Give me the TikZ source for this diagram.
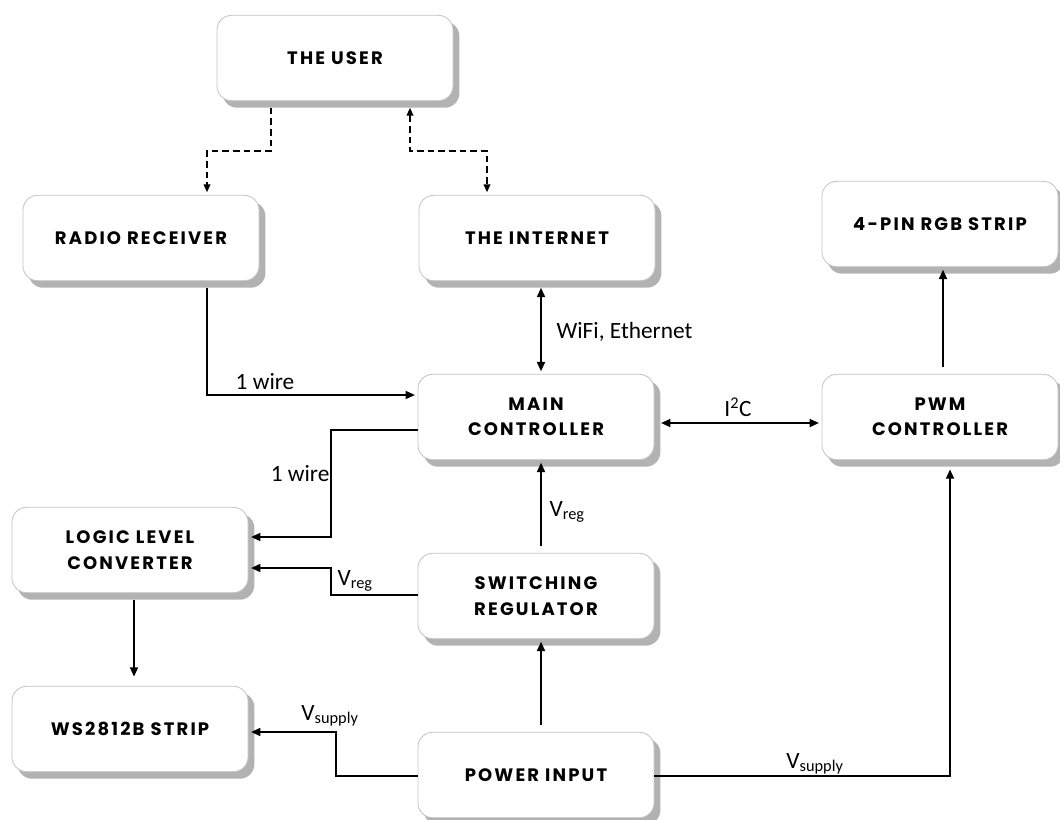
\documentclass[tikz,border=0pt]{standalone}
\usepackage{fontspec}
\newfontfamily\boxfont[LetterSpace=12]{Poppins}
\newfontfamily\lblfont{Carlito}
\usetikzlibrary{arrows.meta,backgrounds}
\definecolor{boxline}{HTML}{C4C4C4}
\definecolor{boxshadow}{HTML}{B2B2B2}
\tikzset{
	block/.style={draw=boxline, line width=.6pt, fill=white, rounded corners=11pt,
		minimum width=177pt, minimum height=64pt, align=center,
		font=\boxfont\bfseries\fontsize{13.5}{19}\selectfont},
	lbl/.style={font=\lblfont\fontsize{17.5}{19}\selectfont, inner sep=1pt},
	wire/.style={line width=1.3pt, -{Triangle[length=7pt,width=6pt]}, shorten >=2pt},
	both/.style={wire, {Triangle[length=7pt,width=6pt]}-{Triangle[length=7pt,width=6pt]}, shorten <=2pt},
	link/.style={line width=1.3pt, dashed, dash pattern=on 5pt off 3pt, -{Triangle[length=6pt,width=5pt]}, shorten >=2pt},
}
\begin{document}
\begin{tikzpicture}[x=.75pt, y=-.75pt]
		\useasboundingbox (0,0) rectangle (1060,820);
		% blocks
		\node [block] (user)     at (335,58)  {THE USER};
		\node [block] (radio)    at (141,238) {RADIO RECEIVER};
		\node [block] (internet) at (537,238) {THE INTERNET};
		\node [block] (rgb)      at (940,224) {4-PIN RGB STRIP};
		\node [block] (main)     at (536,417) {MAIN\\CONTROLLER};
		\node [block] (pwm)      at (940,417) {PWM\\CONTROLLER};
		\node [block] (logic)    at (130,550) {LOGIC LEVEL\\CONVERTER};
		\node [block] (switch)   at (536,596) {SWITCHING\\REGULATOR};
		\node [block] (ws)       at (130,729) {WS2812B STRIP};
		\node [block] (power)    at (536,775) {POWER INPUT};
		\begin{scope}[on background layer]
			\foreach \b in {user, radio, internet, rgb, main, pwm, logic, switch, ws, power} {
				\fill [boxshadow, rounded corners=11pt] ([xshift=4.5pt,yshift=-5pt]\b.north west) rectangle ([xshift=4.5pt,yshift=-5pt]\b.south east);
			}
		\end{scope}
		% user side
		\draw [link, shorten <=5pt] (user.south -| 271,0) -- (271,151) -| (radio.north -| 207,0);
		\draw [link, shorten <=5pt, {Triangle[length=6pt,width=5pt]}-{Triangle[length=6pt,width=5pt]}] (user.south -| 410,0) -- (410,151) -| (internet.north -| 487,0);
		\draw [wire, shorten <=5pt] (radio.south -| 207,0) |- (main.west |- 0,395);
		\node [lbl] (wire1) at (265,382) {1 wire};
		\draw [both, shorten <=5pt] (internet.south -| 541,0) -- (main.north -| 541,0);
		\node [lbl, right] (wifi) at (555,332) {WiFi, Ethernet};
		% controllers
		\draw [both, shorten <=5pt] (main.east |- 0,423) -- (pwm.west |- 0,423);
		\node [lbl] (i2c) at (738,407) {I\textsuperscript{2}C};
		\draw [wire, shorten <=5pt] (pwm.north -| 943,0) -- (rgb.south -| 943,0);
		\draw [wire] (main.west |- 0,430) -- (331,430) -- (331,537) -- (logic.east |- 0,537);
		\node [lbl, left] (wire2) at (331,474) {1 wire};
		% power
		\draw [wire, shorten <=5pt] (switch.north -| 541,0) -- (main.south -| 541,0);
		\node [lbl, right] (vreg1) at (548,512) {V\textsubscript{reg}};
		\draw [wire] (switch.west |- 0,595) -- (331,595) -- (331,568) -- (logic.east |- 0,568);
		\node [lbl, right] (vreg2) at (336,581) {V\textsubscript{reg}};
		\draw [wire, shorten <=5pt] (power.north -| 541,0) -- (switch.south -| 541,0);
		\draw [wire, shorten <=5pt, shorten >=7pt] (logic.south -| 134,0) -- (ws.north -| 134,0);
		\draw [wire] (power.west |- 0,776) -- (336,776) -- (336,732) -- (ws.east |- 0,732);
		\node [lbl] (vsup1) at (330,716) {V\textsubscript{supply}};
		\draw [wire, shorten >=7pt] (power.east |- 0,776) -- (950,776) -- (pwm.south -| 950,0);
		\node [lbl] (vsup2) at (815,764) {V\textsubscript{supply}};
	\end{tikzpicture}
\end{document}
